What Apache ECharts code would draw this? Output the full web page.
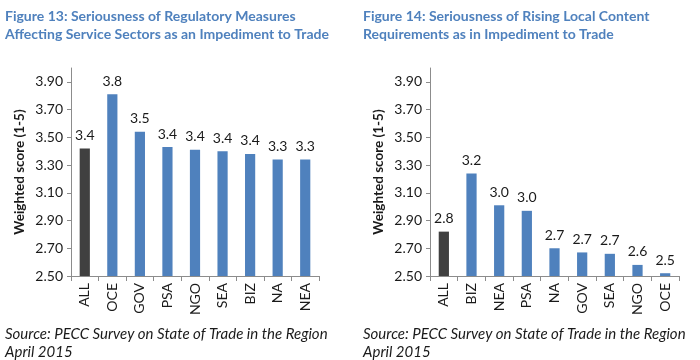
<!DOCTYPE html>
<html><head><meta charset="utf-8">
<script src="https://cdn.jsdelivr.net/npm/echarts@6/dist/echarts.min.js"></script>
<style>html,body{margin:0;padding:0;background:#fff}#c{width:700px;height:360px}</style>
</head><body><div id="c"></div>
<script>
const cats13 = ['ALL','OCE','GOV','PSA','NGO','SEA','BIZ','NA','NEA'];
const vals13 = [3.42,3.81,3.54,3.43,3.41,3.40,3.38,3.34,3.34];
const cats14 = ['ALL','BIZ','NEA','PSA','NA','GOV','SEA','NGO','OCE'];
const vals14 = [2.82,3.24,3.01,2.97,2.70,2.67,2.66,2.58,2.52];
const yTicks = [2.5,2.7,2.9,3.1,3.3,3.5,3.7,3.9];
const title13 = 'Figure 13: Seriousness of Regulatory Measures\nAffecting Service Sectors as an Impediment to Trade';
const title14 = 'Figure 14: Seriousness of Rising Local Content\nRequirements as in Impediment to Trade';
const yName = 'Weighted score (1-5)';
const source = 'Source: PECC Survey on State of Trade in the Region\nApril 2015';

const FONT = 'Lato, "Open Sans", sans-serif';
const BLUE = '#4f81bd', DARK = '#404040', AXIS = '#8c8c8c', TXT = '#1a1a1a';

function mkData(vals){ return vals.map((v,i)=> i===0 ? {value:v, itemStyle:{color:DARK}} : v); }
function xAx(idx, cats){
  return {type:'category', gridIndex:idx, data:cats,
    axisLine:{lineStyle:{color:AXIS}}, axisTick:{show:true, lineStyle:{color:AXIS}, length:5},
    axisLabel:{rotate:90, color:TXT, fontFamily:FONT, fontSize:14, margin:7}};
}
function yAx(idx){
  return {type:'value', gridIndex:idx, min:2.5, max:4.0,
    name:yName, nameLocation:'middle', nameGap:44,
    nameTextStyle:{fontFamily:FONT, fontWeight:'bold', fontSize:13.5, color:TXT},
    axisLine:{show:true, lineStyle:{color:AXIS}},
    axisTick:{show:true, customValues:yTicks, length:4, lineStyle:{color:AXIS}},
    axisLabel:{customValues:yTicks, formatter:v=>v.toFixed(2), color:TXT, fontFamily:FONT, fontSize:14, margin:8},
    splitLine:{show:false}};
}
function ser(idx, vals){
  return {type:'bar', xAxisIndex:idx, yAxisIndex:idx, data:mkData(vals), barWidth:'37%',
    itemStyle:{color:BLUE},
    label:{show:true, position:'top', distance:6, formatter:p=>p.value.toFixed(1), color:TXT, fontFamily:FONT, fontSize:14}};
}
const chart = echarts.init(document.getElementById('c'), null, {renderer:'canvas'});
chart.setOption({
  animation:false,
  title:[
    {text:title13, left:0, top:2, textStyle:{fontFamily:FONT, fontWeight:'bold', fontSize:14, color:BLUE, lineHeight:18}},
    {text:title14, left:358, top:2, textStyle:{fontFamily:FONT, fontWeight:'bold', fontSize:14, color:BLUE, lineHeight:18}},
    {text:source, left:0, top:320, textStyle:{fontFamily:FONT, fontStyle:'italic', fontWeight:'normal', fontSize:15, color:TXT, lineHeight:18}},
    {text:source, left:358, top:320, textStyle:{fontFamily:FONT, fontStyle:'italic', fontWeight:'normal', fontSize:15, color:TXT, lineHeight:18}}
  ],
  grid:[
    {left:71, top:68, width:248, height:208},
    {left:430, top:68, width:249, height:208}
  ],
  xAxis:[xAx(0,cats13), xAx(1,cats14)],
  yAxis:[yAx(0), yAx(1)],
  series:[ser(0,vals13), ser(1,vals14)]
});
</script></body></html>
